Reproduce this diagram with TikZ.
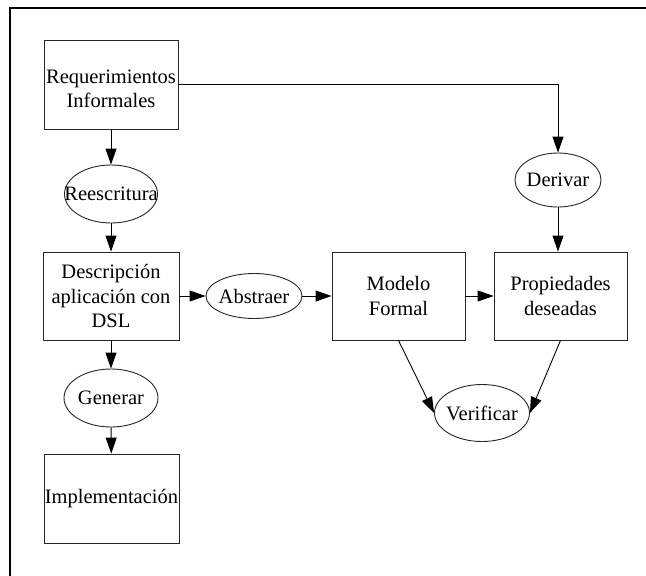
\documentclass[tikz,border=0pt]{standalone}
\usepackage{fontspec}
\setmainfont{Liberation Serif}
\usetikzlibrary{shapes.geometric,arrows.meta}
\begin{document}
\begin{tikzpicture}[x=1pt,y=-1pt,
  font=\fontsize{20.5}{24.5}\selectfont,
  box/.style={draw=black!85, line width=0.9pt, rectangle, inner sep=0pt, align=center},
  oval/.style={draw=black!85, line width=0.9pt, ellipse, inner sep=0pt},
  arr/.style={line width=0.9pt, -{Triangle[length=16pt,width=11pt]}}]
\useasboundingbox (0,0) rectangle (646,576);
\draw[line width=2.5pt] (10,576) -- (10,8) -- (646,8);

\node[box, minimum width=134pt, minimum height=89pt,
  label={[align=center,yshift=-4.5pt,font=\fontsize{20.5}{24.5}\selectfont]center:Requerimientos\\Informales}] (req) at (111,84.5) {};
\node[oval, minimum width=93pt, minimum height=58pt] (rees) at (111,194) {\makebox[0pt]{Reescritura}};
\node[box, minimum width=136pt, minimum height=88pt] (desc) at (111,296) {Descripción\\aplicación con\\DSL};
\node[oval, minimum width=96pt, minimum height=45pt] (abst) at (254,296) {\makebox[0pt]{Abstraer}};
\node[box, minimum width=133pt, minimum height=88pt] (model) at (398.5,296) {Modelo\\Formal};
\node[box, minimum width=133pt, minimum height=88pt] (prop) at (560.5,296) {Propiedades\\deseadas};
\node[oval, minimum width=86pt, minimum height=54pt] (deriv) at (558,180) {\makebox[0pt]{Derivar}};
\node[oval, minimum width=95pt, minimum height=57pt] (verif) at (482,413) {\makebox[0pt]{Verificar}};
\node[oval, minimum width=94pt, minimum height=58pt] (gen) at (111,398) {\makebox[0pt]{Generar}};
\node[box, minimum width=135pt, minimum height=89pt] (impl) at (111.5,498.5) {Implementación};

\draw[arr] (req) -- (rees);
\draw[arr] (req.east) -| (deriv.north);
\draw[arr] (rees) -- (desc);
\draw[arr] (desc) -- (abst);
\draw[arr] (abst) -- (model);
\draw[arr] (model) -- (prop);
\draw[arr] (deriv.south) -- (deriv.south |- prop.north);
\draw[arr] (model.south) -- (verif.west);
\draw[arr] (prop.south) -- (verif.east);
\draw[arr] (desc) -- (gen);
\draw[arr] (gen) -- (impl);
\end{tikzpicture}
\end{document}
